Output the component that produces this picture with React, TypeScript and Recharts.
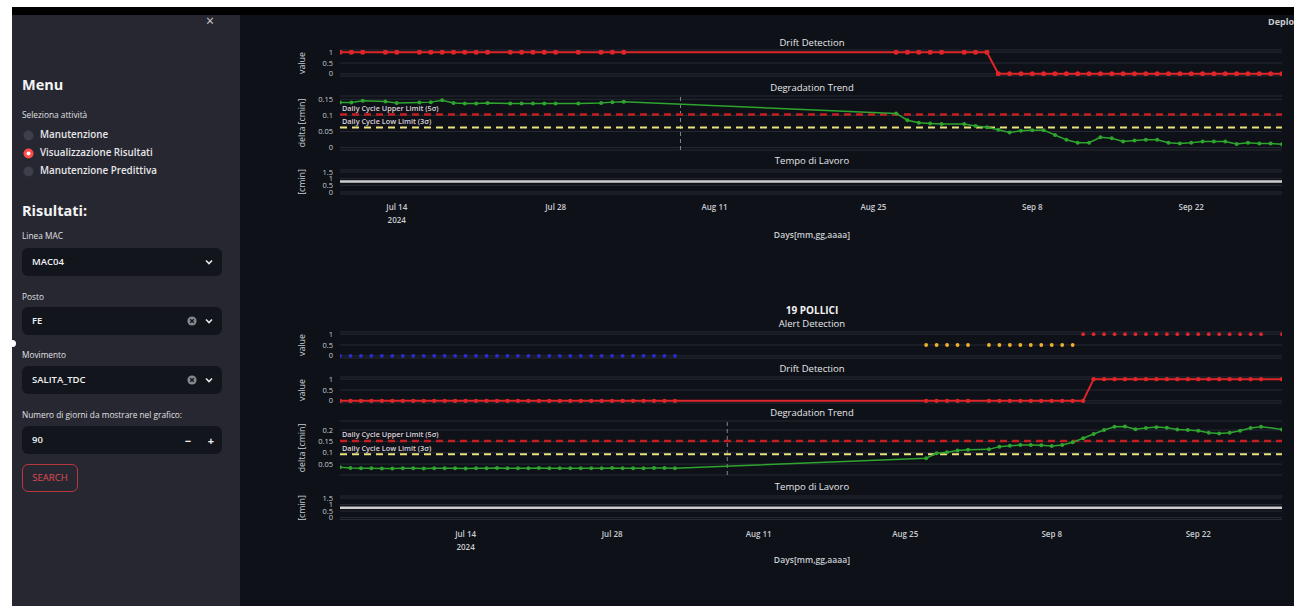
import React from "react";
import {
  CartesianGrid,
  ComposedChart,
  Line,
  ReferenceLine,
  XAxis,
  YAxis,
} from "recharts";

const FONT = '"Open Sans", "Noto Sans", "DejaVu Sans", sans-serif';

// shared x axis ticks
const tickDates = ["2024-07-14", "2024-07-28", "2024-08-11", "2024-08-25", "2024-09-08", "2024-09-22"];
const tickLabels = ["Jul 14", "Jul 28", "Aug 11", "Aug 25", "Sep 8", "Sep 22"];
const yearLabel = "2024";

// figure 1 (MAC04 / FE / SALITA_TDC) - days counted from topStart
const topStart = "2024-07-09";
const topEnd = "2024-09-30";
const topDays = [
  0, 1, 2, 4, 5, 7, 8, 9, 10, 11, 12, 13, 15, 16, 17, 18, 19, 21, 23, 24, 25,
  49, 50, 51, 52, 53, 55, 56, 57,
  58, 59, 60, 61, 62, 63, 64, 65, 66, 67, 68, 69, 70, 71, 72, 73, 74, 75, 76, 77, 78, 79, 80, 81, 82, 83,
];
const topDrift = [
  1, 1, 1, 1, 1, 1, 1, 1, 1, 1, 1, 1, 1, 1, 1, 1, 1, 1, 1, 1, 1,
  1, 1, 1, 1, 1, 1, 1, 1,
  0, 0, 0, 0, 0, 0, 0, 0, 0, 0, 0, 0, 0, 0, 0, 0, 0, 0, 0, 0, 0, 0, 0, 0, 0, 0,
];
const topDelta = [
  0.14, 0.14, 0.145, 0.143, 0.138, 0.14, 0.141, 0.147, 0.138, 0.137, 0.137, 0.138, 0.137, 0.137, 0.137,
  0.137, 0.137, 0.137, 0.138, 0.141, 0.142,
  0.106, 0.085, 0.077, 0.075, 0.073, 0.073, 0.067, 0.063,
  0.055, 0.047, 0.052, 0.054, 0.054, 0.039, 0.024, 0.015, 0.015, 0.032, 0.029, 0.019, 0.022, 0.024,
  0.024, 0.015, 0.013, 0.015, 0.019, 0.019, 0.019, 0.011, 0.015, 0.013, 0.013, 0.01,
];
const topUpperLimit = 0.103;
const topLowLimit = 0.062;
const topTempo = [0.78, 0.78];
const topCursor = "2024-08-08";

// figure 2 (19 POLLICI) - days counted from botStart
const botStart = "2024-07-02";
const botEnd = "2024-09-30";
const botDays = [
  0, 1, 2, 3, 4, 5, 6, 7, 8, 9, 10, 11, 12, 13, 14, 15, 16, 17, 18, 19, 20, 21, 22, 23, 24, 25, 26, 27,
  28, 29, 30, 31, 32,
  56, 57, 58, 59, 60,
  62, 63, 64, 65, 66, 67, 68, 69, 70, 71, 72, 73, 74, 75, 76, 77, 78, 79, 80, 81, 82, 83, 84, 85, 86,
  87, 88,
  90,
];
const botAlert = [
  0, 0, 0, 0, 0, 0, 0, 0, 0, 0, 0, 0, 0, 0, 0, 0, 0, 0, 0, 0, 0, 0, 0, 0, 0, 0, 0, 0, 0, 0, 0, 0, 0,
  0.5, 0.5, 0.5, 0.5, 0.5,
  0.5, 0.5, 0.5, 0.5, 0.5, 0.5, 0.5, 0.5, 0.5, 1, 1, 1, 1, 1, 1, 1, 1, 1, 1, 1, 1, 1, 1, 1, 1, 1, 1,
  1,
];
const botDrift = [
  0, 0, 0, 0, 0, 0, 0, 0, 0, 0, 0, 0, 0, 0, 0, 0, 0, 0, 0, 0, 0, 0, 0, 0, 0, 0, 0, 0, 0, 0, 0, 0, 0,
  0, 0, 0, 0, 0,
  0, 0, 0, 0, 0, 0, 0, 0, 0, 0, 1, 1, 1, 1, 1, 1, 1, 1, 1, 1, 1, 1, 1, 1, 1, 1, 1,
  1,
];
const botDelta = [
  0.036, 0.033, 0.032, 0.032, 0.031, 0.031, 0.032, 0.032, 0.031, 0.032, 0.032, 0.032, 0.031, 0.032,
  0.032, 0.033, 0.032, 0.032, 0.032, 0.033, 0.032, 0.032, 0.032, 0.032, 0.032, 0.032, 0.033, 0.032,
  0.032, 0.032, 0.033, 0.033, 0.032,
  0.076, 0.098, 0.102, 0.11, 0.113,
  0.115, 0.127, 0.131, 0.134, 0.134, 0.133, 0.13, 0.134, 0.146, 0.164, 0.183, 0.2, 0.215, 0.216, 0.204,
  0.209, 0.213, 0.21, 0.203, 0.2, 0.197, 0.188, 0.185, 0.188, 0.197, 0.209, 0.215,
  0.203,
];
const botUpperLimit = 0.152;
const botLowLimit = 0.094;
const botTempo = [0.75, 0.75];
const botCursor = "2024-08-08";

const BG = "#0e1117";
const SIDEBAR = "#262730";
const FIELD = "#13151c";
const RED = "#de2529";
const GREEN = "#2fa42f";
const BLUE = "#2b2bd8";
const AMBER = "#f0b22e";
const LIMIT_RED = "#c41e23";
const LIMIT_YELLOW = "#ece27a";
const GRID = "#262b35";
const TICK = "#c9ccd2";
const TITLE = "#e4e6ea";

const DAY_MS = 86400000;
const dayOf = (start: string, d: string) => Math.round((Date.parse(d) - Date.parse(start)) / DAY_MS);
const rows = (days: number[], vals: number[]) => days.map((day, i) => ({ day, v: vals[i] }));

const CHART_LEFT = 290;
const CHART_W = 1002;

function DateTick(props: any) {
  const { x, y, payload, gap, marks } = props;
  const i = marks.indexOf(payload.value);
  const style = { fill: TICK, fontSize: 8, fontWeight: 600, fontFamily: FONT };
  return (
    <g>
      <text x={x} y={y + gap} textAnchor="middle" dominantBaseline="central" {...style}>
        {tickLabels[i]}
      </text>
      {i === 0 && (
        <text x={x} y={y + gap + 13} textAnchor="middle" dominantBaseline="central" {...style}>
          {yearLabel}
        </text>
      )}
    </g>
  );
}

function LimitLabel(props: any) {
  const vb = props.viewBox || { x: 0, y: 0 };
  return (
    <text
      x={vb.x + 2}
      y={vb.y - 3.5}
      fill="#dcd2d9"
      fontSize={7.3}
      fontWeight={600}
      fontFamily={FONT}
    >
      {props.text}
    </text>
  );
}

type PanelProps = {
  top: number;
  height: number;
  xMax: number;
  yDomain: [number, number];
  yTicks: number[];
  xTicks?: number[];
  tickGap?: number;
  children: React.ReactNode;
};

function Panel({ top, height, xMax, yDomain, yTicks, xTicks, tickGap = 12, children }: PanelProps) {
  const axisH = xTicks ? 40 : 0;
  return (
    <div style={{ position: "absolute", left: CHART_LEFT, top, width: CHART_W, height: height + axisH }}>
      <ComposedChart width={CHART_W} height={height + axisH} margin={{ top: 0, right: 10, bottom: 0, left: 0 }}>
        <CartesianGrid stroke={GRID} vertical={false} />
        <XAxis
          type="number"
          dataKey="day"
          domain={[0, xMax]}
          allowDataOverflow
          hide={!xTicks}
          ticks={xTicks}
          interval={0}
          height={axisH}
          axisLine={false}
          tickLine={false}
          tickSize={0}
          tickMargin={0}
          tick={<DateTick gap={tickGap} marks={xTicks || []} />}
        />
        <YAxis
          type="number"
          domain={yDomain}
          allowDataOverflow
          ticks={yTicks}
          interval={0}
          width={50}
          axisLine={false}
          tickLine={false}
          tickSize={0}
          tickMargin={7}
          tick={{ fill: TICK, fontSize: 7.5, fontFamily: FONT }}
        />
        {children}
      </ComposedChart>
    </div>
  );
}

function Text({ x, y, children, size = 9.5, weight = 400, color = TITLE, anchor = "center" }: any) {
  return (
    <div
      style={{
        position: "absolute",
        left: x,
        top: y,
        transform: anchor === "center" ? "translate(-50%, -50%)" : "translate(0, -50%)",
        whiteSpace: "nowrap",
        fontFamily: FONT,
        fontSize: size,
        fontWeight: weight,
        color,
        lineHeight: 1,
      }}
    >
      {children}
    </div>
  );
}

function AxisTitle({ y, text }: { y: number; text: string }) {
  return (
    <div
      style={{
        position: "absolute",
        left: 302,
        top: y,
        transform: "translate(-50%, -50%) rotate(-90deg)",
        whiteSpace: "nowrap",
        fontFamily: FONT,
        fontSize: 8.8,
        color: TICK,
        lineHeight: 1,
      }}
    >
      {text}
    </div>
  );
}

function Chevron({ x, y }: { x: number; y: number }) {
  return (
    <svg style={{ position: "absolute", left: x - 4, top: y - 3 }} width={8} height={6}>
      <path d="M1 1.5 L4 4.5 L7 1.5" stroke="#e8e8ea" strokeWidth={1.6} fill="none" />
    </svg>
  );
}

function ClearIcon({ x, y }: { x: number; y: number }) {
  return (
    <svg style={{ position: "absolute", left: x - 5, top: y - 5 }} width={10} height={10}>
      <circle cx={5} cy={5} r={4.6} fill="#85878e" />
      <path d="M3.2 3.2 L6.8 6.8 M6.8 3.2 L3.2 6.8" stroke={FIELD} strokeWidth={1.3} />
    </svg>
  );
}

function Field({ top, value, clearable, children }: any) {
  return (
    <div
      style={{
        position: "absolute",
        left: 22,
        top,
        width: 200,
        height: 28,
        background: FIELD,
        borderRadius: 6,
      }}
    >
      <Text x={10} y={14} size={9.5} weight={600} color="#f2f2f4" anchor="left">
        {value}
      </Text>
      {children}
      {clearable && <ClearIcon x={170} y={14} />}
    </div>
  );
}

function Radio({ y, label, checked }: { y: number; label: string; checked?: boolean }) {
  return (
    <>
      <svg style={{ position: "absolute", left: 23, top: y - 5 }} width={11} height={11}>
        <circle cx={5.5} cy={5.5} r={5} fill={checked ? "#ff4b4b" : "#3c3f49"} />
        {checked && <circle cx={5.5} cy={5.5} r={2} fill="#ffffff" />}
      </svg>
      <Text x={40} y={y} size={9.8} weight={600} color="#e6e6ea" anchor="left">
        {label}
      </Text>
    </>
  );
}

function Sidebar() {
  return (
    <>
      <div style={{ position: "absolute", left: 12, top: 15, width: 228, height: 591, background: SIDEBAR }} />
      <Text x={210} y={21} size={14} color="#cfd0d4">
        ×
      </Text>
      <Text x={22} y={85} size={14.5} weight={700} color="#f4f4f6" anchor="left">
        Menu
      </Text>
      <Text x={22} y={115} size={8.3} color="#e0e0e4" anchor="left">
        Seleziona attività
      </Text>
      <Radio y={135} label="Manutenzione" />
      <Radio y={153} label="Visualizzazione Risultati" checked />
      <Radio y={171} label="Manutenzione Predittiva" />
      <Text x={22} y={211} size={14.5} weight={700} color="#f4f4f6" anchor="left">
        Risultati:
      </Text>
      <Text x={22} y={236} size={8.3} color="#e0e0e4" anchor="left">
        Linea MAC
      </Text>
      <Field top={248} value="MAC04">
        <Chevron x={187} y={14} />
      </Field>
      <Text x={22} y={297} size={8.3} color="#e0e0e4" anchor="left">
        Posto
      </Text>
      <Field top={307} value="FE" clearable>
        <Chevron x={187} y={14} />
      </Field>
      <Text x={22} y={355} size={8.3} color="#e0e0e4" anchor="left">
        Movimento
      </Text>
      <Field top={366} value="SALITA_TDC" clearable>
        <Chevron x={187} y={14} />
      </Field>
      <Text x={22} y={415} size={8.3} color="#e0e0e4" anchor="left">
        Numero di giorni da mostrare nel grafico:
      </Text>
      <Field top={426} value="90">
        <Text x={166} y={14} size={11} weight={700} color="#f0f0f2">
          −
        </Text>
        <Text x={189} y={14} size={11} weight={700} color="#f0f0f2">
          +
        </Text>
      </Field>
      <div
        style={{
          position: "absolute",
          left: 22,
          top: 464,
          width: 54,
          height: 26,
          border: "1px solid #b8363d",
          borderRadius: 6,
        }}
      />
      <Text x={50} y={478} size={9.5} color="#e04a52">
        SEARCH
      </Text>
      <div
        style={{
          position: "absolute",
          left: 9,
          top: 340,
          width: 7,
          height: 7,
          borderRadius: "50%",
          background: "#ffffff",
        }}
      />
    </>
  );
}

export default function App() {
  const topMax = dayOf(topStart, topEnd);
  const botMax = dayOf(botStart, botEnd);
  const topTicks = tickDates.map((d) => dayOf(topStart, d));
  const botTicks = tickDates.map((d) => dayOf(botStart, d));

  const topDriftRows = rows(topDays, topDrift);
  const topDeltaRows = rows(topDays, topDelta);
  const topTempoRows = rows([0, topMax], topTempo);

  const alertRows = rows(botDays, botAlert);
  const alertOk = alertRows.filter((r) => r.v === 0);
  const alertWarn = alertRows.filter((r) => r.v === 0.5);
  const alertOn = alertRows.filter((r) => r.v === 1);
  const botDriftRows = rows(botDays, botDrift);
  const botDeltaRows = rows(botDays, botDelta);
  const botTempoRows = rows([0, botMax], botTempo);

  const upperLabel = "Daily Cycle Upper Limit (5σ)";
  const lowLabel = "Daily Cycle Low Limit (3σ)";

  return (
    <div
      style={{
        position: "fixed",
        left: 0,
        top: 0,
        width: 1294,
        height: 606,
        overflow: "hidden",
        background: "#ffffff",
        fontFamily: FONT,
      }}
    >
      <style>{"svg.recharts-surface { overflow: visible; }"}</style>
      <div style={{ position: "absolute", left: 12, top: 7, width: 1282, height: 8, background: "#000000" }} />
      <div style={{ position: "absolute", left: 240, top: 15, width: 1054, height: 591, background: BG }} />
      <Sidebar />
      <Text x={1268} y={21} size={9} weight={700} color="#c9cad0" anchor="left">
        Deploy
      </Text>

      {/* figure 1 */}
      <Text x={812} y={43}>Drift Detection</Text>
      <Text x={812} y={88}>Degradation Trend</Text>
      <Text x={812} y={161}>Tempo di Lavoro</Text>
      <Text x={812} y={235} size={8.6} weight={600} color={TICK}>
        Days[mm,gg,aaaa]
      </Text>
      <AxisTitle y={63} text="value" />
      <AxisTitle y={123} text="delta [cmin]" />
      <AxisTitle y={182} text="[cmin]" />

      <Panel top={50} height={26} xMax={topMax} yDomain={[-0.1, 1.1]} yTicks={[0, 0.5, 1]}>
        <Line
          data={topDriftRows}
          dataKey="v"
          stroke={RED}
          strokeWidth={2}
          dot={{ r: 2.5, fill: RED, stroke: "none" }}
          isAnimationActive={false}
        />
      </Panel>
      <Panel top={96} height={54} xMax={topMax} yDomain={[-0.0075, 0.16]} yTicks={[0, 0.05, 0.1, 0.15]}>
        <ReferenceLine x={dayOf(topStart, topCursor)} stroke="#80858e" strokeDasharray="4 3" />
        <ReferenceLine
          y={topUpperLimit}
          stroke={LIMIT_RED}
          strokeWidth={2.5}
          strokeDasharray="7 5"
          label={<LimitLabel text={upperLabel} />}
        />
        <ReferenceLine
          y={topLowLimit}
          stroke={LIMIT_YELLOW}
          strokeWidth={2}
          strokeDasharray="7 5"
          label={<LimitLabel text={lowLabel} />}
        />
        <Line
          data={topDeltaRows}
          dataKey="v"
          stroke={GREEN}
          strokeWidth={1.5}
          dot={{ r: 2, fill: GREEN, stroke: "none" }}
          isAnimationActive={false}
        />
      </Panel>
      <Panel
        top={170}
        height={24}
        xMax={topMax}
        yDomain={[-0.15, 1.65]}
        yTicks={[0, 0.5, 1, 1.5]}
        xTicks={topTicks}
        tickGap={12}
      >
        <Line data={topTempoRows} dataKey="v" stroke="#cfcfcf" strokeWidth={2.5} dot={false} isAnimationActive={false} />
      </Panel>

      {/* figure 2 */}
      <Text x={812} y={310} size={10} weight={700} color="#f2f2f4">
        19 POLLICI
      </Text>
      <Text x={812} y={324}>Alert Detection</Text>
      <Text x={812} y={369}>Drift Detection</Text>
      <Text x={812} y={413}>Degradation Trend</Text>
      <Text x={812} y={487}>Tempo di Lavoro</Text>
      <Text x={812} y={560} size={8.6} weight={600} color={TICK}>
        Days[mm,gg,aaaa]
      </Text>
      <AxisTitle y={345} text="value" />
      <AxisTitle y={390} text="value" />
      <AxisTitle y={448} text="delta [cmin]" />
      <AxisTitle y={508} text="[cmin]" />

      <Panel top={331.5} height={26} xMax={botMax} yDomain={[-0.1, 1.1]} yTicks={[0, 0.5, 1]}>
        <Line data={alertOk} dataKey="v" stroke="none" dot={{ r: 1.9, fill: BLUE, stroke: "none" }} isAnimationActive={false} />
        <Line data={alertWarn} dataKey="v" stroke="none" dot={{ r: 1.9, fill: AMBER, stroke: "none" }} isAnimationActive={false} />
        <Line data={alertOn} dataKey="v" stroke="none" dot={{ r: 1.9, fill: RED, stroke: "none" }} isAnimationActive={false} />
      </Panel>
      <Panel top={376.5} height={26} xMax={botMax} yDomain={[-0.1, 1.1]} yTicks={[0, 0.5, 1]}>
        <Line
          data={botDriftRows}
          dataKey="v"
          stroke={RED}
          strokeWidth={2}
          dot={{ r: 2.2, fill: RED, stroke: "none" }}
          isAnimationActive={false}
        />
      </Panel>
      <Panel top={421} height={54} xMax={botMax} yDomain={[0.002, 0.24]} yTicks={[0.05, 0.1, 0.15, 0.2]}>
        <ReferenceLine x={dayOf(botStart, botCursor)} stroke="#80858e" strokeDasharray="4 3" />
        <ReferenceLine
          y={botUpperLimit}
          stroke={LIMIT_RED}
          strokeWidth={2.5}
          strokeDasharray="7 5"
          label={<LimitLabel text={upperLabel} />}
        />
        <ReferenceLine
          y={botLowLimit}
          stroke={LIMIT_YELLOW}
          strokeWidth={2}
          strokeDasharray="7 5"
          label={<LimitLabel text={lowLabel} />}
        />
        <Line
          data={botDeltaRows}
          dataKey="v"
          stroke={GREEN}
          strokeWidth={1.5}
          dot={{ r: 2, fill: GREEN, stroke: "none" }}
          isAnimationActive={false}
        />
      </Panel>
      <Panel
        top={495.5}
        height={23.5}
        xMax={botMax}
        yDomain={[-0.15, 1.65]}
        yTicks={[0, 0.5, 1, 1.5]}
        xTicks={botTicks}
        tickGap={14}
      >
        <Line data={botTempoRows} dataKey="v" stroke="#cfcfcf" strokeWidth={2.5} dot={false} isAnimationActive={false} />
      </Panel>
    </div>
  );
}
